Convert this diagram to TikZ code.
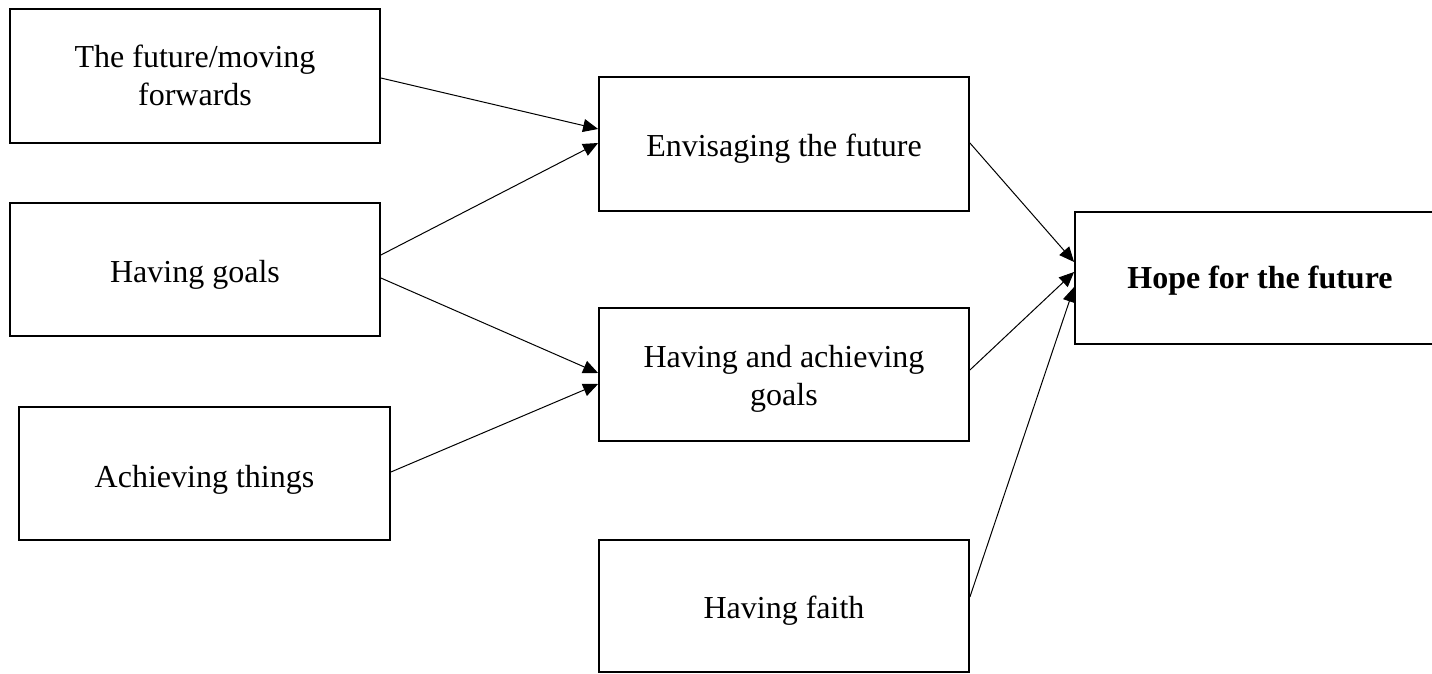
\documentclass[tikz,border=0pt]{standalone}
\usepackage{fontspec}
\setmainfont{Liberation Serif}
\usetikzlibrary{arrows.meta}
\begin{document}
\begin{tikzpicture}[x=1pt,y=-1pt,
  box/.style={draw, line width=1.8pt, rectangle, minimum width=370pt,
    minimum height=133pt, inner sep=0pt, align=center,
    text height=25pt, text depth=0pt,
    font=\fontsize{32}{38}\selectfont},
  twoline/.style={text height=60pt, text depth=0pt},
  link/.style={line width=1pt, -{Triangle[length=15pt,width=13pt]}}]
\useasboundingbox (0,0) rectangle (1432,674);
% left column
\node[box, twoline, minimum height=134pt] (b1) at (195,76) {The future/moving\\forwards};
\node[box] (b2) at (195,269.5) {Having goals};
\node[box, minimum width=371pt, text height=27pt] (b3) at (204.5,473.5) {Achieving things};
% middle column
\node[box, minimum height=134pt, text height=26pt] (b4) at (784,144) {Envisaging the future};
\node[box, twoline, text height=61pt] (b5) at (784,374.5) {Having and achieving\\goals};
\node[box, minimum height=132pt, text height=24pt] (b6) at (784,606) {Having faith};
% outcome
\node[box, minimum height=132pt, text height=20pt,
  font=\fontsize{32}{38}\selectfont\bfseries] (b7) at (1260,278) {Hope for the future};
% connectors
\draw[link] ([yshift=-2pt]b1.east) -- ([yshift=15pt]b4.west);
\draw[link] ([yshift=14.5pt]b2.east) -- ([yshift=1pt]b4.west);
\draw[link] ([yshift=-8.5pt]b2.east) -- ([yshift=1.5pt]b5.west);
\draw[link] ([yshift=1.5pt]b3.east) -- ([yshift=-9.5pt]b5.west);
\draw[link] ([yshift=1pt]b4.east) -- ([yshift=16pt]b7.west);
\draw[link] ([yshift=4.5pt]b5.east) -- ([yshift=6pt]b7.west);
\draw[link] ([yshift=9pt]b6.east) -- ([yshift=-9pt]b7.west);
\end{tikzpicture}
\end{document}
